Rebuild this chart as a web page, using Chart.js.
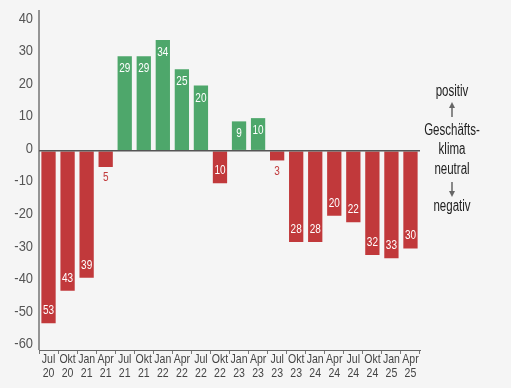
<!DOCTYPE html>
<html>
<head>
<meta charset="utf-8">
<script src="https://cdn.jsdelivr.net/npm/chart.js@4"></script>
<style>
  html, body { margin: 0; padding: 0; background: #f5f5f5; }
  #wrap { width: 511px; height: 388px; }
</style>
</head>
<body>
<div id="wrap"><canvas id="klima"></canvas></div>
<script>
// Quartale
const categories = [
    ["Jul", "20"], ["Okt", "20"], ["Jan", "21"], ["Apr", "21"],
    ["Jul", "21"], ["Okt", "21"], ["Jan", "22"], ["Apr", "22"],
    ["Jul", "22"], ["Okt", "22"], ["Jan", "23"], ["Apr", "23"],
    ["Jul", "23"], ["Okt", "23"], ["Jan", "24"], ["Apr", "24"],
    ["Jul", "24"], ["Okt", "24"], ["Jan", "25"], ["Apr", "25"]
];
// Geschäftsklima-Werte
const values = [-53, -43, -39, -5, 29, 29, 34, 25, 20, -10, 9, 10, -3, -28, -28, -20, -22, -32, -33, -30];
const yTicks = [40, 30, 20, 10, 0, -10, -20, -30, -40, -50, -60];
const sideNotes = ["positiv", "Geschäfts-", "klima", "neutral", "negativ"];

const green = '#4ea76b';
const red = '#c1393b';
const font = '"Liberation Sans", Arial, sans-serif';

// schmale Schrift: Text horizontal gestaucht zeichnen
function narrowText(ctx, text, x, y, sx, align) {
    ctx.save();
    ctx.translate(x, y);
    ctx.scale(sx, 1);
    ctx.textAlign = align || 'center';
    ctx.fillText(text, 0, 0);
    ctx.restore();
}

// Achsenbeschriftungen
const axisText = {
    id: 'axisText',
    afterDraw(chart) {
        const ctx = chart.ctx;
        const xs = chart.scales.x, ys = chart.scales.y;
        const area = chart.chartArea;
        ctx.save();
        // y-Achsenlinie
        ctx.strokeStyle = '#555';
        ctx.lineWidth = 1.2;
        ctx.beginPath();
        ctx.moveTo(area.left, area.top);
        ctx.lineTo(area.left, area.bottom);
        ctx.stroke();

        ctx.textBaseline = 'middle';
        ctx.fillStyle = '#555';
        ctx.font = '15px ' + font;
        yTicks.forEach(v => {
            narrowText(ctx, String(v), area.left - 6, ys.getPixelForValue(v) - 2, 0.86, 'right');
        });
        ctx.fillStyle = '#444';
        ctx.font = '13.5px ' + font;
        categories.forEach((c, i) => {
            const x = xs.getPixelForValue(i);
            narrowText(ctx, c[0], x, area.bottom + 9.5, 0.78);
            narrowText(ctx, c[1], x, area.bottom + 23, 0.78);
        });
        ctx.restore();
    }
};

// Zahlen an den Balken
const barLabels = {
    id: 'barLabels',
    afterDatasetsDraw(chart) {
        const ctx = chart.ctx;
        const meta = chart.getDatasetMeta(0);
        ctx.save();
        ctx.font = '12.5px ' + font;
        ctx.textBaseline = 'middle';
        meta.data.forEach((bar, i) => {
            const v = values[i];
            const h = Math.abs(bar.base - bar.y);
            let y;
            if (h > 20) {
                ctx.fillStyle = '#ffffff';
                y = v > 0 ? bar.y + 12.5 : bar.y - 12.5;
            } else {
                ctx.fillStyle = red;
                y = bar.y + 11;
            }
            narrowText(ctx, String(Math.abs(v)), bar.x, y, 0.8);
        });
        ctx.restore();
    }
};

// Erklärung rechts
const sideText = {
    id: 'sideText',
    afterDraw(chart) {
        const ctx = chart.ctx;
        const x = 452;
        ctx.save();
        ctx.font = '16px ' + font;
        ctx.fillStyle = '#222';
        ctx.textBaseline = 'middle';
        narrowText(ctx, sideNotes[0], x, 92, 0.72);
        narrowText(ctx, sideNotes[1], x, 131, 0.72);
        narrowText(ctx, sideNotes[2], x, 150, 0.72);
        narrowText(ctx, sideNotes[3], x, 170, 0.72);
        narrowText(ctx, sideNotes[4], x, 207, 0.72);
        ctx.strokeStyle = '#666';
        ctx.fillStyle = '#666';
        ctx.lineWidth = 1.5;
        ctx.beginPath();
        ctx.moveTo(x, 117); ctx.lineTo(x, 106);
        ctx.moveTo(x, 182); ctx.lineTo(x, 193);
        ctx.stroke();
        ctx.beginPath();
        ctx.moveTo(x - 3, 108); ctx.lineTo(x, 102); ctx.lineTo(x + 3, 108);
        ctx.fill();
        ctx.beginPath();
        ctx.moveTo(x - 3, 191); ctx.lineTo(x, 197); ctx.lineTo(x + 3, 191);
        ctx.fill();
        ctx.restore();
    }
};

new Chart(document.getElementById('klima'), {
    type: 'bar',
    data: {
        labels: categories,
        datasets: [{
            data: values,
            backgroundColor: values.map(v => v >= 0 ? green : red),
            barPercentage: 0.75,
            categoryPercentage: 1
        }]
    },
    options: {
        responsive: true,
        maintainAspectRatio: false,
        animation: false,
        layout: { padding: { top: 10, right: 91, bottom: 34, left: 0 } },
        plugins: { legend: { display: false }, tooltip: { enabled: false } },
        scales: {
            x: {
                grid: { drawOnChartArea: false, tickLength: 4, color: '#777', offset: true },
                border: { color: '#666', width: 1 },
                ticks: { display: false }
            },
            y: {
                min: -61.2,
                max: 43.2,
                afterBuildTicks: scale => { scale.ticks = yTicks.map(v => ({ value: v })); },
                afterFit: scale => { scale.width = 39; },
                grid: {
                    drawTicks: false,
                    lineWidth: ctx => ctx.tick && ctx.tick.value === 0 ? 1.5 : 0,
                    color: ctx => ctx.tick && ctx.tick.value === 0 ? '#555' : 'rgba(0,0,0,0)',
                    z: 1
                },
                border: { display: false },
                ticks: { display: false }
            }
        }
    },
    plugins: [barLabels, axisText, sideText]
});
</script>
</body>
</html>
